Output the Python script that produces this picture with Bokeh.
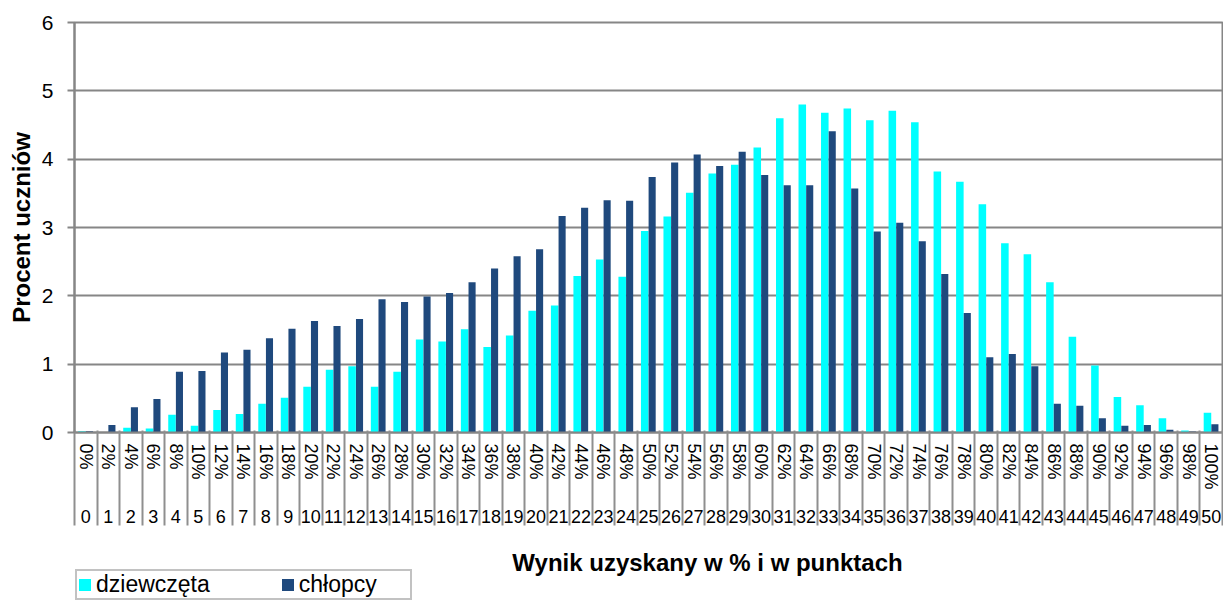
from bokeh.plotting import figure
from bokeh.models import (FixedTicker, LinearAxis, Range1d, Legend, LegendItem,
                          Label, ColumnDataSource)
from bokeh.layouts import column
from bokeh.transform import dodge
from bokeh.embed import file_html
from bokeh.resources import INLINE

# ---- data -------------------------------------------------------------
points = [0, 1, 2, 3, 4, 5, 6, 7, 8, 9, 10, 11, 12, 13, 14, 15, 16, 17, 18, 19,
          20, 21, 22, 23, 24, 25, 26, 27, 28, 29, 30, 31, 32, 33, 34, 35, 36, 37,
          38, 39, 40, 41, 42, 43, 44, 45, 46, 47, 48, 49, 50]
pct_labels = ["0%", "2%", "4%", "6%", "8%", "10%", "12%", "14%", "16%", "18%",
              "20%", "22%", "24%", "26%", "28%", "30%", "32%", "34%", "36%", "38%",
              "40%", "42%", "44%", "46%", "48%", "50%", "52%", "54%", "56%", "58%",
              "60%", "62%", "64%", "66%", "68%", "70%", "72%", "74%", "76%", "78%",
              "80%", "82%", "84%", "86%", "88%", "90%", "92%", "94%", "96%", "98%",
              "100%"]
pts_labels = ["0", "1", "2", "3", "4", "5", "6", "7", "8", "9", "10", "11", "12",
              "13", "14", "15", "16", "17", "18", "19", "20", "21", "22", "23", "24",
              "25", "26", "27", "28", "29", "30", "31", "32", "33", "34", "35", "36",
              "37", "38", "39", "40", "41", "42", "43", "44", "45", "46", "47", "48",
              "49", "50"]
girls = [0.02, 0.00, 0.07, 0.06, 0.26, 0.10, 0.33, 0.27, 0.42, 0.51,
         0.67, 0.92, 0.97, 0.67, 0.89, 1.36, 1.33, 1.51, 1.25, 1.42,
         1.78, 1.86, 2.29, 2.53, 2.28, 2.95, 3.16, 3.51, 3.79, 3.92,
         4.17, 4.60, 4.80, 4.68, 4.74, 4.57, 4.71, 4.54, 3.82, 3.67,
         3.34, 2.77, 2.61, 2.20, 1.40, 0.98, 0.52, 0.40, 0.21, 0.03,
         0.29]
boys = [0.02, 0.11, 0.37, 0.49, 0.89, 0.90, 1.17, 1.21, 1.38, 1.52,
        1.63, 1.56, 1.66, 1.95, 1.91, 1.99, 2.04, 2.20, 2.40, 2.58,
        2.68, 3.17, 3.29, 3.40, 3.39, 3.74, 3.95, 4.07, 3.90, 4.11,
        3.77, 3.62, 3.62, 4.41, 3.57, 2.94, 3.07, 2.80, 2.32, 1.75,
        1.10, 1.15, 0.97, 0.42, 0.39, 0.21, 0.10, 0.11, 0.04, 0.015,
        0.12]
y_ticks = [0, 1, 2, 3, 4, 5, 6]
separators = [v - 0.5 for v in points] + [points[-1] + 0.5]
series_names = ["dziewczęta", "chłopcy"]
series_colors = ["#00FFFF", "#1F497D"]
x_title = "Wynik uzyskany w % i w punktach"
y_title = "Procent uczniów"

GRAY = "#868686"
FONT = "Liberation Sans"

src = ColumnDataSource(dict(x=points, girls=girls, boys=boys))

# ======================= main chart ======================================
p = figure(width=1223, height=527,
           x_range=Range1d(-0.5, 50.5), y_range=Range1d(0, 6),
           output_backend="svg", toolbar_location=None,
           min_border_left=74, min_border_right=1, min_border_top=22,
           min_border_bottom=95)
p.outline_line_color = GRAY
p.outline_line_width = 2
p.background_fill_color = "white"
p.border_fill_color = "white"

r1 = p.vbar(x=dodge("x", -0.168, range=p.x_range), top="girls", width=0.335,
            source=src, fill_color=series_colors[0], line_color=None)
r2 = p.vbar(x=dodge("x", 0.162, range=p.x_range), top="boys", width=0.315,
            source=src, fill_color=series_colors[1], line_color=None)

# ---- y axis -----------------------------------------------------------
yax = p.yaxis[0]
yax.ticker = FixedTicker(ticks=y_ticks)
yax.axis_line_color = GRAY
yax.axis_line_width = 2
yax.major_tick_line_color = GRAY
yax.major_tick_line_width = 2
yax.major_tick_out = 7
yax.major_tick_in = 0
yax.minor_tick_line_color = None
yax.major_label_standoff = 14
yax.major_label_text_font = FONT
yax.major_label_text_font_size = "21px"
yax.major_label_text_color = "black"
yax.axis_label = y_title
yax.axis_label_text_font = FONT
yax.axis_label_text_font_size = "24px"
yax.axis_label_text_font_style = "bold"
yax.axis_label_text_color = "black"
yax.axis_label_standoff = 4

p.ygrid.ticker = FixedTicker(ticks=y_ticks)
p.ygrid.grid_line_color = GRAY
p.ygrid.grid_line_width = 2
p.xgrid.visible = False

# ---- x axis: percentages ------------------------------------------------
xax = p.xaxis[0]
xax.ticker = FixedTicker(ticks=points)
xax.major_label_overrides = {v: s for v, s in zip(points, pct_labels)}
xax.major_label_orientation = "vertical"
xax.major_tick_out = 0
xax.major_tick_in = 0
xax.major_tick_line_color = None
xax.minor_tick_line_color = None
xax.axis_line_color = GRAY
xax.axis_line_width = 2
xax.major_label_standoff = 11
xax.major_label_text_font = FONT
xax.major_label_text_font_size = "18px"
xax.major_label_text_color = "black"

# ---- x axis: points -------------------------------------------------
xax2 = LinearAxis(ticker=FixedTicker(ticks=points),
                  major_label_overrides={v: s for v, s in zip(points, pts_labels)})
xax2.axis_line_color = None
xax2.major_tick_line_color = None
xax2.minor_tick_line_color = None
xax2.major_tick_out = 0
xax2.major_tick_in = 0
xax2.major_label_standoff = 17
xax2.major_label_text_font = FONT
xax2.major_label_text_font_size = "18px"
xax2.major_label_text_color = "black"
p.add_layout(xax2, "below")

# ---- category separators (ticks pointing up through both label rows) -----
xax3 = LinearAxis(ticker=FixedTicker(ticks=[], minor_ticks=separators))
xax3.axis_line_color = None
xax3.major_tick_line_color = None
xax3.major_tick_out = 0
xax3.major_tick_in = 0
xax3.minor_tick_out = 0
xax3.minor_tick_in = 95
xax3.minor_tick_line_color = "#8f8f8f"
xax3.minor_tick_line_width = 2
p.add_layout(xax3, "below")

# ======================= title + legend strip ============================
q = figure(width=1223, height=73,
           x_range=p.x_range, y_range=Range1d(73, 0),
           output_backend="svg", toolbar_location=None,
           x_axis_location=None, y_axis_location=None,
           min_border_left=74, min_border_right=1, min_border_top=0,
           min_border_bottom=0)
q.outline_line_color = None
q.xgrid.visible = False
q.ygrid.visible = False
q.background_fill_color = "white"
q.border_fill_color = "white"

q.add_layout(Label(x=27.62, y=21, text=x_title, text_font=FONT,
                   text_font_size="24px", text_font_style="bold",
                   text_color="black", text_align="center", text_baseline="top"))

# hidden copies of the two series, used only for the legend swatches
g1 = q.vbar(x="x", top="girls", width=0.335, source=src,
            fill_color=series_colors[0], line_color=None, visible=False)
g2 = q.vbar(x="x", top="boys", width=0.315, source=src,
            fill_color=series_colors[1], line_color=None, visible=False)

legend = Legend(items=[LegendItem(label=series_names[0], renderers=[g1]),
                       LegendItem(label=series_names[1], renderers=[g2])],
                orientation="horizontal", location=(1, 0),
                label_text_font=FONT, label_text_font_size="23px",
                label_text_color="black",
                glyph_width=15, glyph_height=15, label_standoff=4, spacing=70,
                label_width=111, padding=0, margin=0,
                inactive_fill_alpha=0, click_policy="none",
                border_line_color=GRAY, border_line_width=2,
                background_fill_color="white", background_fill_alpha=1)
q.add_layout(legend, "center")

layout = column(p, q, spacing=0)
open("out.html", "w").write(file_html(layout, INLINE))
